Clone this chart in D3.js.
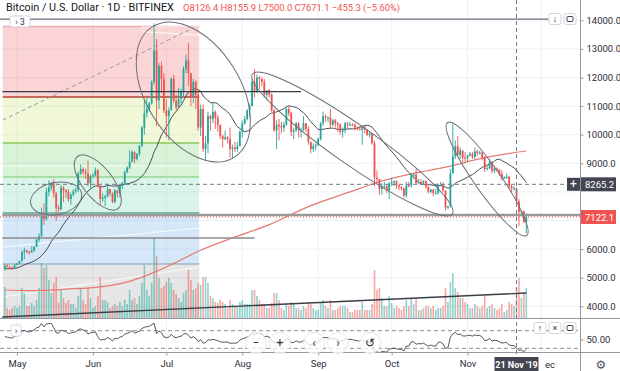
<!DOCTYPE html>
<html>
<head>
<meta charset="utf-8">
<script src="https://cdn.jsdelivr.net/npm/d3@7/dist/d3.min.js"></script>
<style>
  body { margin: 0; background: #fff; }
  svg { display: block; font-family: Roboto, "Liberation Sans", sans-serif; }
</style>
</head>
<body>
<script>
// Bitfinex BTC/USD, daily bars 26 Apr - 25 Nov 2019
var firstDay = new Date(2019, 3, 26);

// closes before the first bar, only used to seed the 20-day MA and the RSI(14)
var seedCloses = [5080, 5300, 5350, 5250, 5350, 5050, 5100, 5120, 5180, 5100,
                  5280, 5350, 5320, 5380, 5400, 5350, 5550, 5600, 5480, 5250];

var opens = [
  5300, 5420, 5380, 5360, 5330,
  5450, 5490, 5580, 5900, 5950, 5900, 5880, 5950, 6080, 6330, 6450, 7250, 7050, 8000, 8150, 8300,
  7950, 7450, 7400, 8150, 8050, 8000, 7750, 7900, 8020, 8080, 8650, 8800, 8700, 8650, 8300,
  8550, 8580, 8750, 8200, 7750, 7800, 7850, 8100, 7950, 7650, 8050, 7950, 8200, 8300, 8700,
  8850, 9050, 9400, 9150, 9330, 9600, 10250, 10750, 10900, 11100, 11850, 12950, 11200, 12400, 11950,
  10850, 10650, 10850, 11950, 11200, 10950, 11250, 11500, 12300, 12600, 12150, 11350, 11850, 11400, 10250,
  10900, 9500, 9700, 10650, 10550, 10800, 10600, 10350, 9950, 9850, 9900, 9850, 9500, 9550, 9500, 9600,
  10100, 10400, 10550, 10850, 11000, 11850, 11500, 12000, 11950, 11850, 11400, 11550, 11400, 10850, 10150,
  10350, 10300, 10250, 10350, 10900, 10750, 10100, 10150, 10400, 10150, 10150, 10400, 10200, 9750, 9500, 9600,
  9650, 9850, 10400, 10650, 10600, 10600, 10350, 10500, 10400, 10350, 10100, 10150, 10400, 10350, 10350,
  10330, 10250, 10200, 10180, 10280, 10170, 10000, 10050, 9700, 8500, 8450, 8100, 8200, 8200, 8050,
  8300, 8330, 8380, 8230, 8170, 8120, 7870, 8230, 8220, 8600, 8600, 8300, 8350, 8320, 8380,
  8180, 8000, 8080, 7960, 7960, 8230, 8240, 8050, 7450, 7500, 8650, 9250, 9600, 9300, 9450, 9200,
  9180, 9270, 9330, 9220, 9420, 9350, 9380, 9200, 8800, 8830, 9050, 8730, 8820, 8780, 8640,
  8470, 8510, 8530, 8200, 8120, 8126.4, 7671.1, 7300, 7320, 6950
];
var highs = [
  5480, 5460, 5420, 5390, 5480,
  5520, 5600, 5950, 6050, 5980, 5950, 6100, 6100, 6350, 6550, 7450, 7600, 8150, 8400, 8350, 8450,
  7990, 7550, 8250, 8200, 8100, 8100, 7950, 8100, 8150, 8700, 8950, 8850, 8800, 9100, 8600,
  8650, 8850, 8800, 8250, 7950, 7900, 8200, 8100, 7980, 8100, 8050, 8250, 8350, 8750, 8900,
  9450, 9450, 9420, 9350, 9650, 10300, 11200, 11300, 11150, 11900, 13900, 13350, 12500, 12550, 12150,
  11250, 10950, 12000, 12100, 11400, 11650, 11600, 12400, 12800, 13200, 12150, 11950, 11900, 11500, 11050,
  11050, 9950, 10800, 10700, 11150, 10850, 10700, 10350, 10000, 10150, 9950, 10250, 9650, 9750, 9750, 10150,
  10500, 10650, 10900, 11100, 11950, 12300, 12100, 12050, 12000, 11950, 11550, 11600, 11450, 10900, 10500,
  10550, 10450, 10450, 10950, 11000, 10800, 10250, 10450, 10450, 10250, 10650, 10400, 10300, 9750, 9700, 9700,
  9900, 10450, 10800, 10700, 10650, 10900, 10550, 10550, 10450, 10400, 10250, 10450, 10450, 10450, 10400,
  10400, 10300, 10300, 10300, 10300, 10200, 10100, 10050, 9800, 8750, 8450, 8300, 8350, 8250, 8350,
  8500, 8400, 8400, 8250, 8200, 8150, 8350, 8350, 8650, 8650, 8800, 8450, 8450, 8400, 8400,
  8200, 8100, 8100, 8100, 8300, 8350, 8330, 8050, 7500, 8800, 10400, 9800, 9950, 9550, 9450, 9400,
  9300, 9400, 9400, 9550, 9480, 9450, 9400, 9250, 8900, 9150, 9080, 8900, 8850, 8800, 8750,
  8550, 8650, 8550, 8250, 8200, 8155.9, 7750, 7350, 7350, 7250
];
var lows = [
  5250, 5350, 5330, 5280, 5300,
  5420, 5470, 5560, 5650, 5850, 5800, 5870, 5900, 6070, 6250, 6430, 6850, 7000, 7850, 8050, 7800,
  7000, 7300, 7350, 7650, 7800, 7650, 7550, 7850, 7950, 8000, 8600, 8600, 8450, 8200, 8100,
  8500, 8550, 8150, 7550, 7650, 7500, 7800, 7850, 7600, 7600, 7800, 7800, 8100, 8250, 8650,
  8800, 9050, 9000, 9100, 9250, 9580, 10000, 10600, 10800, 11050, 11750, 10300, 10900, 11450, 10750,
  9900, 9800, 10850, 11100, 10850, 10950, 11100, 11350, 12150, 11700, 11000, 11100, 10900, 10150, 9950,
  9400, 9100, 9350, 10150, 10400, 10200, 10100, 9850, 9550, 9800, 9700, 9200, 9150, 9400, 9400, 9600,
  9900, 10350, 10500, 10600, 11000, 11300, 11450, 11600, 11700, 11300, 11200, 11300, 10800, 10100, 9500,
  9800, 10050, 10100, 10300, 10650, 9950, 9850, 10100, 9900, 9900, 10150, 10100, 9650, 9350, 9400, 9450,
  9600, 9800, 10300, 10450, 10450, 10200, 10300, 10250, 10100, 10000, 9900, 10050, 10200, 10300, 10300,
  10150, 10150, 10150, 9650, 10050, 9950, 9900, 9650, 8200, 8300, 7900, 7900, 8100, 7950, 7750,
  8200, 8200, 8100, 8050, 8050, 7800, 7800, 8150, 8150, 8450, 8250, 8300, 8250, 8250, 8100,
  7950, 7950, 7850, 7900, 7900, 8200, 8000, 7350, 7400, 7450, 8650, 9150, 9250, 9150, 9050, 9000,
  9050, 9250, 9150, 9150, 9250, 9300, 9100, 8700, 8750, 8800, 8650, 8650, 8700, 8550, 8400,
  8450, 8450, 8100, 8000, 8050, 7500, 6800, 7150, 6900, 6550
];
var closes = [
  5420, 5380, 5360, 5330, 5450,
  5490, 5580, 5900, 5950, 5900, 5880, 5950, 6080, 6330, 6450, 7250, 7050, 8000, 8150, 8300, 7950,
  7450, 7400, 8150, 8050, 8000, 7750, 7900, 8020, 8080, 8650, 8800, 8700, 8650, 8300, 8550,
  8580, 8750, 8200, 7750, 7800, 7850, 8100, 7950, 7650, 8050, 7950, 8200, 8300, 8700, 8850,
  9050, 9400, 9150, 9330, 9600, 10250, 10750, 10900, 11100, 11850, 12950, 11200, 12400, 11950, 10850,
  10650, 10850, 11950, 11200, 10950, 11250, 11500, 12300, 12600, 12150, 11350, 11850, 11400, 10250, 10900,
  9500, 9700, 10650, 10550, 10800, 10600, 10350, 9950, 9850, 9900, 9850, 9500, 9550, 9500, 9600, 10100,
  10400, 10550, 10850, 11000, 11850, 11500, 12000, 11950, 11850, 11400, 11550, 11400, 10850, 10150, 10350,
  10300, 10250, 10350, 10900, 10750, 10100, 10150, 10400, 10150, 10150, 10400, 10200, 9750, 9500, 9600, 9650,
  9850, 10400, 10650, 10600, 10600, 10350, 10500, 10400, 10350, 10100, 10150, 10400, 10350, 10350, 10330,
  10250, 10200, 10180, 10280, 10170, 10000, 10050, 9700, 8500, 8450, 8100, 8200, 8200, 8050, 8300,
  8330, 8380, 8230, 8170, 8120, 7870, 8230, 8220, 8600, 8600, 8300, 8350, 8320, 8380, 8180,
  8000, 8080, 7960, 7960, 8230, 8240, 8050, 7450, 7500, 8650, 9250, 9600, 9300, 9450, 9200, 9180,
  9270, 9330, 9220, 9420, 9350, 9380, 9200, 8800, 8830, 9050, 8730, 8820, 8780, 8640, 8470,
  8510, 8530, 8200, 8120, 8126.4, 7671.1, 7300, 7320, 6950, 7122.1
];
// volume, thousand BTC (approx.)
var volumes = [
  31, 10, 8, 10, 12,
  10, 12, 30, 25, 12, 12, 15, 12, 18, 30, 55, 50, 53, 38, 25, 35,
  41, 15, 28, 20, 15, 18, 14, 14, 10, 22, 30, 18, 14, 31, 20,
  10, 12, 22, 41, 18, 18, 16, 10, 12, 14, 12, 16, 12, 18, 14,
  28, 18, 20, 14, 22, 35, 53, 28, 22, 35, 80, 62, 40, 30, 32,
  36, 40, 35, 28, 24, 20, 16, 25, 28, 48, 38, 28, 30, 35, 33,
  41, 41, 35, 22, 20, 16, 15, 18, 16, 14, 10, 18, 14, 12, 12, 16,
  18, 14, 14, 14, 28, 28, 22, 18, 14, 14, 10, 10, 15, 25, 25,
  18, 10, 8, 14, 12, 16, 14, 10, 10, 8, 12, 10, 16, 14, 10, 8,
  8, 16, 18, 12, 10, 18, 8, 8, 10, 12, 12, 12, 10, 6, 6,
  8, 8, 8, 16, 8, 8, 8, 14, 48, 28, 30, 20, 12, 12, 22,
  15, 10, 12, 10, 8, 12, 18, 12, 20, 14, 20, 8, 8, 10, 12,
  12, 10, 12, 8, 10, 10, 12, 30, 16, 36, 45, 30, 26, 20, 20, 16,
  14, 10, 10, 14, 12, 10, 12, 24, 10, 12, 14, 10, 8, 10, 14,
  6, 8, 16, 14, 12, 30, 40, 20, 25, 30
];

// long moving average (red)
var maLongDates = ["2019-04-26", "2019-05-07", "2019-05-21", "2019-06-04", "2019-06-17", "2019-06-25",
  "2019-07-04", "2019-07-15", "2019-07-28", "2019-08-11", "2019-08-29", "2019-09-14", "2019-09-25",
  "2019-10-09", "2019-10-25", "2019-11-07", "2019-11-25"];
var maLongValues = [4570, 4545, 4600, 4680, 4900, 5150, 5500, 5960, 6390, 6820, 7520, 8000, 8330,
  8630, 8900, 9180, 9430];

var monthTicks = ["2019-05-01", "2019-06-01", "2019-07-01", "2019-08-01", "2019-09-01",
  "2019-10-01", "2019-11-01", "2019-12-01"];
var priceTicks = [4000, 5000, 6000, 7000, 8000, 9000, 10000, 11000, 12000, 13000, 14000];
var rsiLevels = [70, 30];
var rsiTicks = [50];

var symbolTitle = "Bitcoin / U.S. Dollar \u00b7 1D \u00b7 BITFINEX";
var crossDate = "2019-11-21";
var crossPrice = 8265.2;

// chart drawings (anchored in date / price)
var fibFrom = "2019-04-25", fibTo = "2019-07-14";
var fibLevels = [13783, 11318, 9710, 8521, 7262, 5479, 3400];
var hLines = [
  { from: "2019-04-20", to: "2019-12-04", price: 14040, color: "#6a6d78", w: 1.2 },
  { from: "2019-04-25", to: "2019-08-25", price: 11503, color: "#363a45", w: 1.3 },
  { from: "2019-04-25", to: "2020-01-01", price: 7192, color: "#9a9a9a", w: 2.6 },
  { from: "2019-04-25", to: "2019-08-06", price: 6388, color: "#8c8c8c", w: 1.3 }
];
var ellipses = [
  { date: "2019-07-12", price: 11493, rx: 77, ry: 47, rot: 58 },
  { date: "2019-09-15", price: 9675, rx: 122, ry: 20, rot: 35 },
  { date: "2019-11-09", price: 8451, rx: 69, ry: 13, rot: 55 },
  { date: "2019-05-17", price: 7769, rx: 26, ry: 16, rot: -12 },
  { date: "2019-06-03", price: 8329, rx: 33, ry: 15, rot: 52 }
];

function main() {
  var W = 620, H = 371;
  var paneR = 580, mainB = 318, rsiT = 319, rsiB = 352;
  var up = "#26a69a", down = "#ef5350";
  var parse = d3.timeParse("%Y-%m-%d");

  var svg = d3.select("body").append("svg")
    .attr("width", W)
    .attr("height", H);

  var days = closes.map(function(d, i) { return d3.timeDay.offset(firstDay, i); });
  var months = monthTicks.map(parse);

  var x = d3.scaleTime()
    .domain([parse("2019-05-01"), parse("2019-12-01")])
    .range([17, 541]);
  var y = d3.scaleLinear()
    .domain([4000, 14000])
    .range([306.3, 20.3]);
  var vy = d3.scaleLinear()
    .domain([0, 80])
    .range([mainB, mainB - 80]);
  var ry = d3.scaleLinear()
    .domain([30, 70])
    .range([348.3, 330.7]);

  // indicators from the closes
  var all = seedCloses.concat(closes);
  var k0 = seedCloses.length;
  var sma = closes.map(function(c, i) {
    return d3.mean(all.slice(k0 + i - 19, k0 + i + 1));
  });
  var ag = 0, al = 0, j, ch;
  for (j = 1; j <= 14; j++) {
    ch = all[j] - all[j - 1];
    if (ch > 0) ag += ch; else al -= ch;
  }
  ag /= 14; al /= 14;
  var rsiAll = [];
  for (j = 15; j < all.length; j++) {
    ch = all[j] - all[j - 1];
    ag = (ag * 13 + Math.max(ch, 0)) / 14;
    al = (al * 13 + Math.max(-ch, 0)) / 14;
    rsiAll[j] = 100 - 100 / (1 + ag / al);
  }
  var rsi = closes.map(function(c, i) { return rsiAll[k0 + i]; });

  var defs = svg.append("defs");
  defs.append("clipPath").attr("id", "mainClip")
    .append("rect").attr("x", 0).attr("y", 0).attr("width", paneR).attr("height", mainB);
  defs.append("clipPath").attr("id", "rsiClip")
    .append("rect").attr("x", 0).attr("y", rsiT).attr("width", paneR).attr("height", rsiB - rsiT);

  // grid
  var grid = svg.append("g");
  grid.selectAll("line.h").data(priceTicks).enter().append("line")
    .attr("x1", 0).attr("x2", paneR)
    .attr("y1", function(d) { return y(d); })
    .attr("y2", function(d) { return y(d); })
    .attr("stroke", "#eef0f5");
  grid.selectAll("line.v").data(months).enter().append("line")
    .attr("x1", function(d) { return x(d); })
    .attr("x2", function(d) { return x(d); })
    .attr("y1", 0).attr("y2", rsiB)
    .attr("stroke", "#eef0f5");

  var main = svg.append("g").attr("clip-path", "url(#mainClip)");

  // fib retracement block
  var fx0 = x(parse(fibFrom)) + 0.5, fx1 = x(parse(fibTo)) + 1;
  var fibFills = ["rgba(240,80,80,0.24)", "rgba(200,228,110,0.27)", "rgba(110,210,110,0.27)",
    "rgba(80,205,150,0.22)", "rgba(70,150,220,0.22)", "rgba(128,128,128,0.2)"];
  var fibLines = ["#eab0b0", "#c26a5c", "#8cc85c", "#95d88e", "#5ea894", "#9bb8cc", "none"];
  main.selectAll("rect.fib").data(fibLevels.slice(0, -1)).enter().append("rect")
    .attr("x", fx0)
    .attr("width", fx1 - fx0)
    .attr("y", function(d) { return y(d); })
    .attr("height", function(d, i) { return y(fibLevels[i + 1]) - y(d); })
    .attr("fill", function(d, i) { return fibFills[i]; });
  main.selectAll("line.fib").data(fibLevels).enter().append("line")
    .attr("x1", fx0).attr("x2", fx1)
    .attr("y1", function(d) { return y(d); })
    .attr("y2", function(d) { return y(d); })
    .attr("stroke", function(d, i) { return fibLines[i]; })
    .attr("stroke-width", function(d, i) { return i == 1 ? 2 : 1.5; });

  // faint white fan lines inside the fib block
  var fan = [[13600, 13480], [13750, 13800], [8906, 8906], [6073, 6738], [4325, 5374]];
  main.selectAll("line.fan").data(fan).enter().append("line")
    .attr("x1", function(d, i) { return i < 2 ? x(parse("2019-06-21")) : fx0; })
    .attr("x2", fx1)
    .attr("y1", function(d) { return y(d[0]); })
    .attr("y2", function(d) { return y(d[1]); })
    .attr("stroke", "#fff")
    .attr("stroke-opacity", 0.8)
    .attr("stroke-width", 1.2);
  main.append("line")
    .attr("x1", fx0).attr("y1", y(10510))
    .attr("x2", x(parse("2019-07-12"))).attr("y2", y(13731))
    .attr("stroke", "#9598a1")
    .attr("stroke-dasharray", "4,3");

  // volume
  main.selectAll("rect.vol").data(volumes).enter().append("rect")
    .attr("x", function(d, i) { return x(days[i]) - 0.8; })
    .attr("width", 1.6)
    .attr("y", function(d) { return vy(d); })
    .attr("height", function(d) { return mainB - vy(d); })
    .attr("fill", function(d, i) { return closes[i] >= opens[i] ? up : down; })
    .attr("fill-opacity", 0.5);

  // long moving average
  var maLine = d3.line()
    .x(function(d, i) { return x(parse(maLongDates[i])); })
    .y(function(d) { return y(d); })
    .curve(d3.curveMonotoneX);
  main.append("path")
    .attr("d", maLine(maLongValues))
    .attr("fill", "none")
    .attr("stroke", "#e57a72")
    .attr("stroke-width", 1.2);

  // 20 day moving average
  var smaLine = d3.line()
    .x(function(d, i) { return x(days[i]); })
    .y(function(d) { return y(d); });
  main.append("path")
    .attr("d", smaLine(sma))
    .attr("fill", "none")
    .attr("stroke", "#4a4d57")
    .attr("stroke-width", 1);

  // candles
  var candles = main.append("g");
  candles.selectAll("line").data(closes).enter().append("line")
    .attr("x1", function(d, i) { return x(days[i]); })
    .attr("x2", function(d, i) { return x(days[i]); })
    .attr("y1", function(d, i) { return y(highs[i]); })
    .attr("y2", function(d, i) { return y(lows[i]); })
    .attr("stroke", function(d, i) { return d >= opens[i] ? up : down; })
    .attr("stroke-width", 0.9);
  candles.selectAll("rect").data(closes).enter().append("rect")
    .attr("x", function(d, i) { return x(days[i]) - 0.9; })
    .attr("width", 1.8)
    .attr("y", function(d, i) { return y(Math.max(d, opens[i])); })
    .attr("height", function(d, i) { return Math.max(1, Math.abs(y(d) - y(opens[i]))); })
    .attr("fill", function(d, i) { return d >= opens[i] ? up : down; });

  // drawings
  main.selectAll("line.hl").data(hLines).enter().append("line")
    .attr("x1", function(d) { return x(parse(d.from)); })
    .attr("x2", function(d) { return x(parse(d.to)); })
    .attr("y1", function(d) { return y(d.price); })
    .attr("y2", function(d) { return y(d.price); })
    .attr("stroke", function(d) { return d.color; })
    .attr("stroke-width", function(d) { return d.w; });
  // trend line along the volume
  main.append("line")
    .attr("x1", x(parse("2019-04-25"))).attr("y1", y(3626))
    .attr("x2", x(parse("2019-11-25"))).attr("y2", y(4465))
    .attr("stroke", "#3a3d47")
    .attr("stroke-width", 1.4);
  main.selectAll("ellipse").data(ellipses).enter().append("ellipse")
    .attr("transform", function(d) {
      return "translate(" + x(parse(d.date)) + "," + y(d.price) + ") rotate(" + d.rot + ")";
    })
    .attr("rx", function(d) { return d.rx; })
    .attr("ry", function(d) { return d.ry; })
    .attr("fill", "none")
    .attr("stroke", "#6b6e78")
    .attr("stroke-width", 1);

  // last price line
  var last = closes[closes.length - 1];
  main.append("line")
    .attr("x1", 0).attr("x2", paneR)
    .attr("y1", y(last)).attr("y2", y(last))
    .attr("stroke", down)
    .attr("stroke-dasharray", "1,2");

  // RSI pane
  var rsiG = svg.append("g").attr("clip-path", "url(#rsiClip)");
  rsiG.selectAll("line").data(rsiLevels).enter().append("line")
    .attr("x1", 0).attr("x2", paneR)
    .attr("y1", function(d) { return ry(d); })
    .attr("y2", function(d) { return ry(d); })
    .attr("stroke", "#8a8d96")
    .attr("stroke-dasharray", "4,3");
  var rsiLine = d3.line()
    .x(function(d, i) { return x(days[i]); })
    .y(function(d) { return ry(d); });
  rsiG.append("path")
    .attr("d", rsiLine(rsi))
    .attr("fill", "none")
    .attr("stroke", "#3f424b")
    .attr("stroke-width", 0.9);

  // crosshair
  var cx = x(parse(crossDate)), cy = y(crossPrice);
  svg.append("line")
    .attr("x1", cx).attr("x2", cx).attr("y1", 0).attr("y2", 357)
    .attr("stroke", "#757984").attr("stroke-dasharray", "4,3");
  svg.append("line")
    .attr("x1", 0).attr("x2", 566).attr("y1", cy).attr("y2", cy)
    .attr("stroke", "#757984").attr("stroke-dasharray", "4,3");

  // pane borders
  svg.append("line").attr("x1", 0).attr("x2", W).attr("y1", mainB + 0.5).attr("y2", mainB + 0.5)
    .attr("stroke", "#9598a1");
  svg.append("line").attr("x1", 0).attr("x2", W).attr("y1", rsiB + 0.5).attr("y2", rsiB + 0.5)
    .attr("stroke", "#9598a1");
  svg.append("line").attr("x1", paneR + 0.5).attr("x2", paneR + 0.5).attr("y1", 0).attr("y2", H)
    .attr("stroke", "#9598a1");

  // price labels on the axis go under the boxes, so leave out the ones they would cover
  var shownTicks = priceTicks.filter(function(p) {
    return Math.abs(y(p) - y(crossPrice)) > 9 && Math.abs(y(p) - y(last)) > 9;
  });

  // axes
  var priceAxis = svg.append("g")
    .attr("transform", "translate(" + (paneR + 0.5) + ",0)")
    .call(d3.axisRight(y).tickValues(shownTicks).tickFormat(d3.format(".1f")).tickSize(3).tickPadding(3));
  var rsiAxis = svg.append("g")
    .attr("transform", "translate(" + (paneR + 0.5) + ",0)")
    .call(d3.axisRight(ry).tickValues(rsiTicks).tickFormat(d3.format(".2f")).tickSize(3).tickPadding(3));
  var timeAxis = svg.append("g")
    .attr("transform", "translate(0," + (rsiB + 0.5) + ")")
    .call(d3.axisBottom(x).tickValues(months.slice(0, -1)).tickFormat(d3.timeFormat("%b")).tickSize(3).tickPadding(5));
  [priceAxis, rsiAxis, timeAxis].forEach(function(a) {
    a.select(".domain").remove();
    a.selectAll(".tick line").attr("stroke", "#9598a1");
    a.selectAll(".tick text").attr("fill", "#2a2e39").style("font-size", "9.5px")
      .style("font-family", "Roboto, sans-serif");
  });
  // "Dec" peeks out from under the crosshair date label
  svg.append("text")
    .attr("x", x(months[months.length - 1]) + 9).attr("y", 367.5)
    .attr("text-anchor", "middle")
    .attr("fill", "#2a2e39").style("font-size", "9.5px")
    .text("ec");

  // price labels on the axis
  function priceBox(yy, txt, fill) {
    svg.append("rect").attr("x", paneR + 1).attr("y", yy - 7).attr("width", 35).attr("height", 14)
      .attr("fill", fill);
    svg.append("text").attr("x", paneR + 5).attr("y", yy + 3.5).text(txt)
      .attr("fill", "#fff").style("font-size", "9.5px");
  }
  priceBox(cy, d3.format(".1f")(crossPrice), "#434651");
  svg.append("rect").attr("x", 567).attr("y", cy - 6.5).attr("width", 13).attr("height", 13)
    .attr("fill", "#434651");
  svg.append("text").attr("x", 573.5).attr("y", cy + 4).attr("text-anchor", "middle")
    .attr("fill", "#fff").style("font-size", "12px").text("+");
  priceBox(y(last), d3.format(".1f")(last), down);

  // date label of the crosshair
  svg.append("rect").attr("x", cx - 22).attr("y", 357).attr("width", 44).attr("height", 14)
    .attr("fill", "#434651");
  svg.append("text").attr("x", cx).attr("y", 367.5).attr("text-anchor", "middle")
    .attr("fill", "#fff").style("font-size", "9px").style("font-weight", "bold")
    .text(d3.timeFormat("%d %b '%y")(parse(crossDate)));

  // legend
  var iCross = d3.timeDay.count(firstDay, parse(crossDate));
  var chg = closes[iCross] - opens[iCross];
  svg.append("text").attr("x", 6).attr("y", 11).text(symbolTitle)
    .attr("fill", "#131722").style("font-size", "10.8px");
  var f = d3.format(".1f");
  svg.append("text").attr("x", 183).attr("y", 11)
    .attr("fill", down).style("font-size", "9.4px")
    .text("O" + f(opens[iCross]) + " H" + f(highs[iCross]) + " L" + f(lows[iCross]) +
      " C" + f(closes[iCross]) + " " + f(chg).replace("-", "\u2212") +
      " (" + d3.format(".2f")(chg / opens[iCross] * 100).replace("-", "\u2212") + "%)");

  // small buttons
  function button(bx, by, w, label, size) {
    svg.append("rect").attr("x", bx).attr("y", by).attr("width", w).attr("height", 11)
      .attr("rx", 2).attr("fill", "#fff").attr("stroke", "#c9ccd4").attr("stroke-width", 0.8);
    svg.append("text").attr("x", bx + w / 2).attr("y", by + 8.5).attr("text-anchor", "middle")
      .attr("fill", "#2a2e39").style("font-size", size || "9px").text(label);
  }
  button(10, 16, 20, "\u203a 3", "8.5px");
  button(549, 13.5, 12, "\u2193");
  button(564, 13.5, 12, "");
  button(11, 325, 10, "\u203a");
  button(534, 322.5, 12, "\u2191");
  button(549, 322.5, 12, "\u00d7");
  button(564, 322.5, 12, "");
  [[564, 13.5], [564, 322.5]].forEach(function(p) {
    svg.append("rect").attr("x", p[0] + 3).attr("y", p[1] + 3).attr("width", 6).attr("height", 5)
      .attr("rx", 1).attr("fill", "none").attr("stroke", "#2a2e39").attr("stroke-width", 0.9);
  });

  // navigation buttons over the RSI pane
  var nav = ["\u2212", "+", "\u2039", "\u203a", "\u21ba"];
  var navX = [256, 280, 314, 338, 370];
  var ng = svg.append("g").selectAll("g").data(nav).enter().append("g")
    .attr("transform", function(d, i) { return "translate(" + navX[i] + ",343)"; });
  ng.append("circle").attr("r", 10.5).attr("fill", "#fff").attr("fill-opacity", 0.75)
    .attr("stroke", "#e6e8ee");
  ng.append("text").attr("text-anchor", "middle").attr("y", 4)
    .attr("fill", "#2a2e39").style("font-size", "12px").text(function(d) { return d; });

  // settings gear
  svg.append("text").attr("x", 601).attr("y", 369).attr("text-anchor", "middle")
    .attr("fill", "#50535e").style("font-size", "12px").style("font-family", "DejaVu Sans")
    .text("\u2699");
}
main();
</script>
</body>
</html>
